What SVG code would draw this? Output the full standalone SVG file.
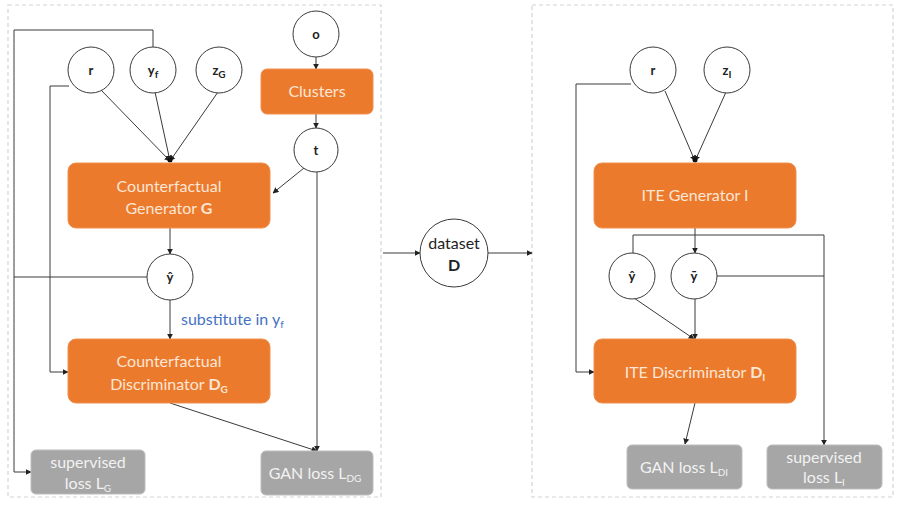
<svg xmlns="http://www.w3.org/2000/svg" width="899" height="507" viewBox="0 0 899 507">
<style>
.panel{fill:#fff;stroke:#d4d4d4;stroke-width:1.2;stroke-dasharray:4 3}
.circ{fill:#fff;stroke:#3a3a3a;stroke-width:1}
.orange{fill:#EC7A2C;stroke:#F09050;stroke-width:1}
.gray{fill:#A6A6A6;stroke:#BDBDBD;stroke-width:1}
.lbl{font-family:Lato,"Open Sans","Liberation Sans",sans-serif;font-size:13px;font-weight:bold;fill:#222;text-anchor:middle}
.wt{font-family:Lato,"Open Sans","Liberation Sans",sans-serif;font-size:16px;fill:#FCE6D6;text-anchor:middle}
.gt{font-family:Lato,"Open Sans","Liberation Sans",sans-serif;font-size:16px;fill:#F2F2F2;text-anchor:middle}
.blue{font-family:Lato,"Open Sans","Liberation Sans",sans-serif;font-size:16px;fill:#4472C4}
.ds{font-family:Lato,"Open Sans","Liberation Sans",sans-serif;font-size:16px;fill:#222;text-anchor:middle}
.sub{font-size:10px}
.ln{fill:none;stroke:#3a3a3a;stroke-width:1}
.arr{marker-end:url(#ah)}
</style>
<defs>
<marker id="ah" viewBox="0 0 10 10" refX="9" refY="5" markerWidth="6" markerHeight="6" orient="auto-start-reverse" markerUnits="userSpaceOnUse">
<path d="M0,0 L10,5 L0,10 z" fill="#222"/>
</marker>
</defs>
<rect width="899" height="507" fill="#fff"/>
<rect class="panel" x="8" y="5" width="373" height="492"/>
<rect class="panel" x="532" y="5" width="361" height="492"/>

<g id="connectors">
<path class="ln arr" d="M101,90 L170,161"/>
<path class="ln arr" d="M155,92 L170,161"/>
<path class="ln arr" d="M218,92 L170,161"/>
<circle cx="170" cy="160" r="2.5" fill="#111"/>
<path class="ln arr" d="M316,57 L316,69"/>
<path class="ln arr" d="M316,114 L316,128"/>
<path class="ln arr" d="M304,168 L273,193"/>
<path class="ln arr" d="M317,172 L317,451"/>
<path class="ln arr" d="M170,228 L170,254"/>
<path class="ln arr" d="M170,300 L170,339"/>
<path class="ln arr" d="M153,48 L153,30 L14,30 L14,472 L31,472"/>
<path class="ln arr" d="M69,86 L50,86 L50,372 L68,372"/>
<path class="ln" d="M147,277 L14,277"/>
<path class="ln arr" d="M170,403 L317,451"/>
<path class="ln arr" d="M383,253 L420,253"/>
<path class="ln arr" d="M488,253 L532,253"/>
<path class="ln arr" d="M665,91 L695,161"/>
<path class="ln arr" d="M726,92 L695,161"/>
<circle cx="695" cy="160" r="2.5" fill="#111"/>
<path class="ln arr" d="M631,84 L576,84 L576,372 L594,372"/>
<path class="ln arr" d="M695,228 L695,253"/>
<path class="ln" d="M633,253 L633,235 L824,235"/>
<path class="ln arr" d="M824,235 L824,445"/>
<path class="ln" d="M717,276 L824,276"/>
<path class="ln arr" d="M634,298 L694,339"/>
<path class="ln arr" d="M695,299 L695,339"/>
<path class="ln arr" d="M695,403 L685,444"/>
</g>

<g id="n-r"><circle class="circ" cx="91" cy="70" r="23"/><text class="lbl" x="91" y="75">r</text></g>
<g id="n-yf"><circle class="circ" cx="153" cy="70" r="23"/><text class="lbl" x="153" y="75">y<tspan class="sub" dy="3">f</tspan></text></g>
<g id="n-zG"><circle class="circ" cx="219" cy="70" r="23"/><text class="lbl" x="219" y="75">z<tspan class="sub" dy="3">G</tspan></text></g>
<g id="n-o"><circle class="circ" cx="316" cy="34" r="23"/><text class="lbl" x="316" y="39">o</text></g>
<g id="n-clusters"><rect class="orange" x="261" y="69" width="112" height="45" rx="6"/><text class="wt" x="317" y="97">Clusters</text></g>
<g id="n-t"><circle class="circ" cx="316" cy="150" r="22"/><text class="lbl" x="316" y="155">t</text></g>
<g id="n-G"><rect class="orange" x="68" y="163" width="202" height="65" rx="8"/><text class="wt" x="169" y="192">Counterfactual</text><text class="wt" x="169" y="214">Generator <tspan font-weight="bold">G</tspan></text></g>
<g id="n-yhat"><circle class="circ" cx="170" cy="277" r="23"/><text class="lbl" x="170" y="282">ŷ</text></g>
<text class="blue" x="181" y="325">substitute in y<tspan class="sub" dy="3">f</tspan></text>
<g id="n-DG"><rect class="orange" x="68" y="339" width="202" height="64" rx="8"/><text class="wt" x="169" y="367">Counterfactual</text><text class="wt" x="169" y="390">Discriminator <tspan font-weight="bold">D</tspan><tspan class="sub" font-weight="bold" dy="3">G</tspan></text></g>
<g id="n-LG"><rect class="gray" x="31" y="450" width="114" height="44" rx="5"/><text class="gt" x="88" y="468">supervised</text><text class="gt" x="88" y="489">loss L<tspan class="sub" dy="3">G</tspan></text></g>
<g id="n-LDG"><rect class="gray" x="261" y="451" width="112" height="44" rx="5"/><text class="gt" x="315" y="479">GAN loss L<tspan class="sub" dy="3">DG</tspan></text></g>

<g id="n-dataset"><circle class="circ" cx="454" cy="253" r="34"/><text class="ds" x="454" y="249">dataset</text><text class="ds" font-weight="bold" x="454" y="271">D</text></g>

<g id="n-r2"><circle class="circ" cx="653" cy="70" r="23"/><text class="lbl" x="653" y="75">r</text></g>
<g id="n-zI"><circle class="circ" cx="727" cy="70" r="23"/><text class="lbl" x="727" y="75">z<tspan class="sub" dy="3">I</tspan></text></g>
<g id="n-I"><rect class="orange" x="594" y="163" width="202" height="65" rx="8"/><text class="wt" x="695" y="201">ITE Generator I</text></g>
<g id="n-yhat2"><circle class="circ" cx="632" cy="276" r="23"/><text class="lbl" x="632" y="281">ŷ</text></g>
<g id="n-ybar"><circle class="circ" cx="694" cy="276" r="23"/><text class="lbl" x="694" y="281">ȳ</text></g>
<g id="n-DI"><rect class="orange" x="594" y="339" width="202" height="64" rx="8"/><text class="wt" x="695" y="378">ITE Discriminator <tspan font-weight="bold">D</tspan><tspan class="sub" font-weight="bold" dy="3">I</tspan></text></g>
<g id="n-LDI"><rect class="gray" x="627" y="445" width="115" height="44" rx="5"/><text class="gt" x="684" y="473">GAN loss L<tspan class="sub" dy="3">DI</tspan></text></g>
<g id="n-LI"><rect class="gray" x="767" y="445" width="115" height="44" rx="5"/><text class="gt" x="824" y="463">supervised</text><text class="gt" x="824" y="483">loss L<tspan class="sub" dy="3">I</tspan></text></g>
</svg>
